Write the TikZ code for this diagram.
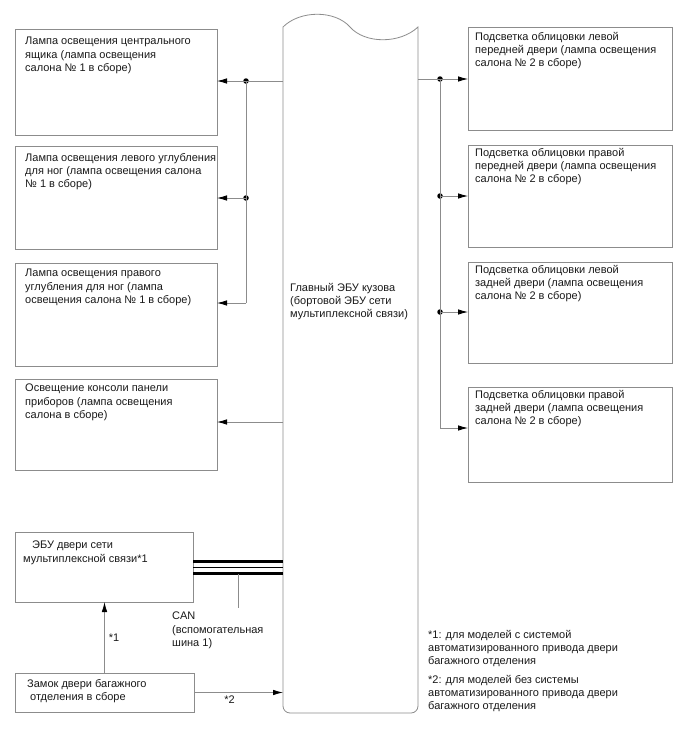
\documentclass[tikz,border=0pt]{standalone}
\usepackage{fontspec}
\setmainfont{Liberation Sans}
\usetikzlibrary{arrows.meta,positioning}
\tikzset{
  blok/.style={draw=black!45, line width=0.8pt, rectangle, anchor=north west,
    inner sep=0pt, outer sep=0pt},
  txt/.style={anchor=north west, align=left, inner sep=0pt,
    font=\fontsize{11}{13.3}\selectfont, text=black!90},
  wire/.style={draw=black!45, line width=0.8pt},
  arr/.style={wire, -{Latex[color=black,length=10pt,width=5.5pt]}},
  dot/.style={circle, fill=black, inner sep=0pt, minimum size=5.5pt},
  bus/.style={draw=black, line width=3pt},
  thinbus/.style={draw=black, line width=0.9pt},
}

\begin{document}
\begin{tikzpicture}[x=1pt, y=-1pt]
  \useasboundingbox (0,0) rectangle (688,755);

  % Main body ECU
  \node[rectangle, draw=none, anchor=north west, inner sep=0pt, outer sep=0pt,
    minimum width=135pt, minimum height=686pt] (ebu) at (283,27) {};
  \draw[wire] (ebu.north west) .. controls (300,10) and (335,10) .. (350,27)
    .. controls (365,44) and (400,44) .. (ebu.north east)
    -- ([yshift=7pt]ebu.south east) arc[start angle=0, end angle=-90, radius=7pt]
    -- ([xshift=7pt]ebu.south west) arc[start angle=270, end angle=180, radius=7pt]
    -- cycle;
  \node[txt, below right=256pt and 7pt of ebu.north west]
    {Главный ЭБУ кузова\\(бортовой ЭБУ сети\\мультиплексной связи)};

  % Left boxes
  \node[blok, minimum width=202pt, minimum height=106pt] (lamp1) at (15,29) {};
  \node[blok, minimum width=202pt, minimum height=103pt] (lamp2) at (15,146) {};
  \node[blok, minimum width=202pt, minimum height=103pt] (lamp3) at (15,263) {};
  \node[blok, minimum width=202pt, minimum height=91pt] (lamp4) at (15,379) {};
  \node[blok, minimum width=178pt, minimum height=70pt] (ebudv) at (15,532) {};
  \node[blok, minimum width=179pt, minimum height=39pt] (zamok) at (15,673) {};

  \node[txt, below right=8pt and 10pt of lamp1.north west]
    {Лампа освещения центрального\\ящика (лампа освещения\\салона № 1 в сборе)};
  \node[txt, below right=7pt and 10pt of lamp2.north west]
    {Лампа освещения левого углубления\\для ног (лампа освещения салона\\№ 1 в сборе)};
  \node[txt, below right=6pt and 10pt of lamp3.north west]
    {Лампа освещения правого\\углубления для ног (лампа\\освещения салона № 1 в сборе)};
  \node[txt, below right=5pt and 10pt of lamp4.north west]
    {Освещение консоли панели\\приборов (лампа освещения\\салона в сборе)};
  \node[txt, below right=9pt and 8pt of ebudv.north west]
    {\hspace{9pt}ЭБУ двери сети\\мультиплексной связи*1};
  \node[txt, below right=6pt and 12pt of zamok.north west]
    {Замок двери багажного\\\hspace{3pt}отделения в сборе};

  % Right boxes
  \node[blok, minimum width=204pt, minimum height=103pt] (pod1) at (468,27) {};
  \node[blok, minimum width=204pt, minimum height=102pt] (pod2) at (468,145) {};
  \node[blok, minimum width=204pt, minimum height=101pt] (pod3) at (468,262) {};
  \node[blok, minimum width=204pt, minimum height=95pt] (pod4) at (468,387) {};

  \node[txt, below right=5pt and 7pt of pod1.north west]
    {Подсветка облицовки левой\\передней двери (лампа освещения\\салона № 2 в сборе)};
  \node[txt, below right=3pt and 7pt of pod2.north west]
    {Подсветка облицовки правой\\передней двери (лампа освещения\\салона № 2 в сборе)};
  \node[txt, below right=3pt and 7pt of pod3.north west]
    {Подсветка облицовки левой\\задней двери (лампа освещения\\салона № 2 в сборе)};
  \node[txt, below right=3pt and 7pt of pod4.north west]
    {Подсветка облицовки правой\\задней двери (лампа освещения\\салона № 2 в сборе)};

  % Left connections
  \node[dot] (jl1) at (246,81) {};
  \node[dot] (jl2) at (246,198) {};
  \coordinate (jl3) at (246,303);
  \coordinate (kl4) at (283,422);
  \draw[wire] (ebu.west |- jl1) -- (jl1.center) -- (jl3);
  \draw[arr] (jl1.center) -- (lamp1.east |- jl1);
  \draw[arr] (jl2.center) -- (lamp2.east |- jl2);
  \draw[arr] (jl3) -- (lamp3.east |- jl3);
  \draw[arr] (kl4) -- (lamp4.east |- kl4);

  % Right connections
  \node[dot] (jr1) at (440,79) {};
  \node[dot] (jr2) at (440,196) {};
  \node[dot] (jr3) at (440,312) {};
  \coordinate (jr4) at (440,428);
  \draw[wire] (ebu.east |- jr1) -- (jr1.center) -- (jr4);
  \draw[arr] (jr1.center) -- (pod1.west |- jr1);
  \draw[arr] (jr2.center) -- (pod2.west |- jr2);
  \draw[arr] (jr3.center) -- (pod3.west |- jr3);
  \draw[arr] (jr4) -- (pod4.west |- jr4);

  % CAN bus
  \draw[bus] ([yshift=6pt]ebudv.east) -- ([yshift=6pt]ebu.west |- ebudv.east);
  \draw[thinbus] (ebudv.east) -- (ebu.west |- ebudv.east);
  \draw[bus] ([yshift=-6pt]ebudv.east) -- ([yshift=-6pt]ebu.west |- ebudv.east);
  \coordinate (cantap) at (238,574);
  \coordinate (canend) at (238,608);
  \draw[wire] (cantap) -- (canend);
  \node[txt] (canlbl) at (172,612) {CAN\\(вспомогательная\\шина 1)};

  % Tailgate lock
  \draw[arr] (zamok.north) -- (zamok.north |- ebudv.south)
    node[midway, right=4pt, txt, anchor=west] {*1};
  \draw[arr] (zamok.east) -- (ebu.west |- zamok.east)
    node[pos=0.4, below=3pt, txt, anchor=north] {*2};

  % Notes
  \node[txt] (prim1) at (428,630)
    {*1: для моделей с системой\\автоматизированного привода двери\\багажного отделения};
  \node[txt] (prim2) at (428,675)
    {*2: для моделей без системы\\автоматизированного привода двери\\багажного отделения};
\end{tikzpicture}
\end{document}
